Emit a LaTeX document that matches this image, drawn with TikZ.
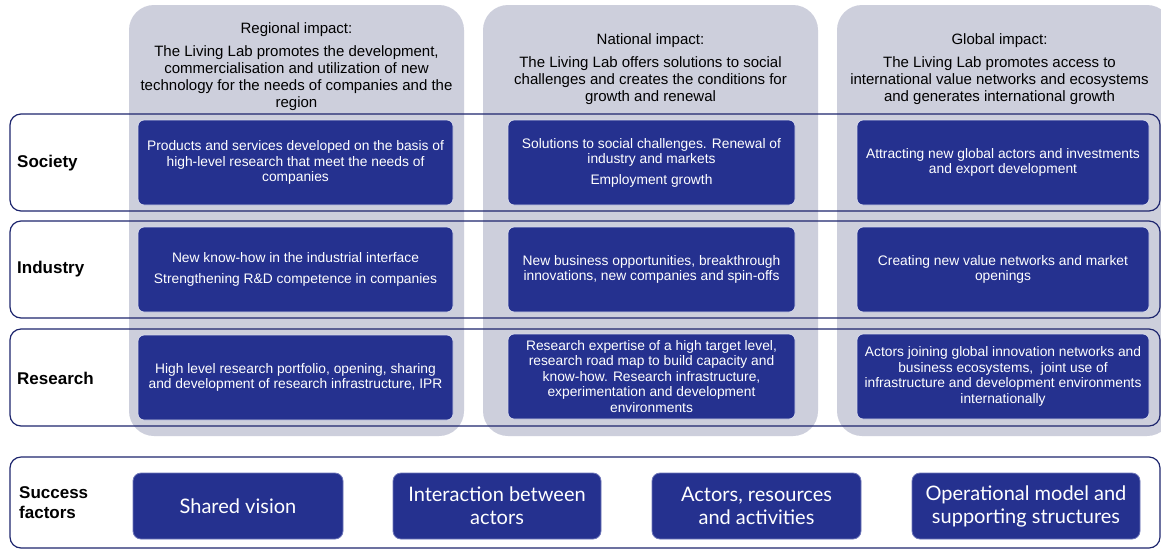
\documentclass[tikz,border=0pt]{standalone}
\usepackage{fontspec}
\setmainfont{Liberation Sans}
\newfontfamily\latofont{Lato}
\definecolor{colgray}{RGB}{205,207,220}
\definecolor{framenavy}{RGB}{30,38,110}
\definecolor{boxblue}{RGB}{37,49,143}
\definecolor{boxedge}{RGB}{215,218,235}
\definecolor{sfedge}{RGB}{110,118,185}
\newcommand{\hdrfont}{\fontsize{15}{17}\selectfont}
\newcommand{\bxfont}{\fontsize{13.8}{15.5}\selectfont}
\newcommand{\lblfont}{\fontsize{17}{20}\selectfont\bfseries}
\newcommand{\sffont}{\latofont\fontsize{20}{23}\selectfont}
\tikzset{
  graycol/.style={fill=colgray, draw=none, rounded corners=25pt, minimum width=335, minimum height=431, inner sep=0pt, outer sep=0pt},
  rowframe/.style={draw=framenavy, line width=1.2pt, rounded corners=11pt, minimum width=1150, minimum height=97, inner sep=0pt, outer sep=0pt},
  bluebox/.style={fill=boxblue, draw=boxedge, line width=0.8pt, rounded corners=6pt, minimum height=85, inner sep=0pt, outer sep=0pt, text=white, align=center, font=\bxfont},
  sfbox/.style={fill=boxblue, draw=sfedge, line width=0.8pt, rounded corners=8pt, minimum height=66, inner sep=0pt, outer sep=0pt, text=white, align=center, font=\sffont},
  hdr/.style={align=center, font=\hdrfont, text=black, inner sep=0pt},
  rowlabel/.style={anchor=west, align=left, font=\lblfont, text=black, inner sep=0pt}
}
\begin{document}
\begin{tikzpicture}[x=1pt,y=-1pt]
\useasboundingbox (0,0) rectangle (1161,550);
\fill[white] (0,0) rectangle (1161,550);
% gray impact columns
\node[graycol] (colA) at (296.5,220.5) {};
\node[graycol] (colB) at (650.5,220.5) {};
\node[graycol] (colC) at (1004.5,220.5) {};
% headers
\node[hdr] (hA) at (296.5,67) {Regional impact:\\[6pt]The Living Lab promotes the development,\\commercialisation and utilization of new\\technology for the needs of companies and the\\region};
\node[hdr] (hB) at (650.5,69) {National impact:\\[6pt]The Living Lab offers solutions to social\\challenges and creates the conditions for\\growth and renewal};
\node[hdr] (hC) at (999.5,69) {Global impact:\\[6pt]The Living Lab promotes access to\\international value networks and ecosystems\\and generates international growth};
% row frames
\node[rowframe] (fSoc) at (585,162.5) {};
\node[rowframe] (fInd) at (585,269.5) {};
\node[rowframe] (fRes) at (585,377.5) {};
\node[rowframe, minimum height=91] (fSuc) at (585,502.5) {};
% row labels
\node[rowlabel] (lSoc) at (17,163) {Society};
\node[rowlabel] (lInd) at (17,269.5) {Industry};
\node[rowlabel] (lRes) at (17,378) {Research};
\node[rowlabel] (lSuc) at (19,503) {Success\\factors};
% society row
\node[bluebox, minimum width=315] (sA) at (295.5,162.5) {Products and services developed on the basis of\\high-level research that meet the needs of\\companies};
\node[bluebox, minimum width=287] (sB) at (651.5,162.5) {Solutions to social challenges. Renewal of\\industry and markets\\[5pt]Employment growth};
\node[bluebox, minimum width=292] (sC) at (1003,162.5) {Attracting new global actors and investments\\and export development};
% industry row
\node[bluebox, minimum width=315] (iA) at (295.5,269.5) {New know-how in the industrial interface\\[5pt]Strengthening R\&D competence in companies};
\node[bluebox, minimum width=287] (iB) at (651.5,269.5) {New business opportunities, breakthrough\\innovations, new companies and spin-offs};
\node[bluebox, minimum width=292] (iC) at (1003,269.5) {Creating new value networks and market\\openings};
% research row
\node[bluebox, minimum width=315] (rA) at (295.5,377.5) {High level research portfolio, opening, sharing\\and development of research infrastructure, IPR};
\node[bluebox, minimum width=287] (rB) at (651.5,376.5) {Research expertise of a high target level,\\research road map to build capacity and\\know-how. Research infrastructure,\\experimentation and development\\environments};
\node[bluebox, minimum width=292] (rC) at (1003,376.5) {Actors joining global innovation networks and\\business ecosystems,\ \ joint use of\\infrastructure and development environments\\internationally};
% success factors
\node[sfbox, minimum width=210] (b1) at (238,506) {Shared vision};
\node[sfbox, minimum width=208] (b2) at (497,506) {Interaction between\\actors};
\node[sfbox, minimum width=209] (b3) at (756.5,506) {Actors, resources\\and activities};
\node[sfbox, minimum width=228] (b4) at (1026,506) {Operational model and\\supporting structures};
\end{tikzpicture}
\end{document}
